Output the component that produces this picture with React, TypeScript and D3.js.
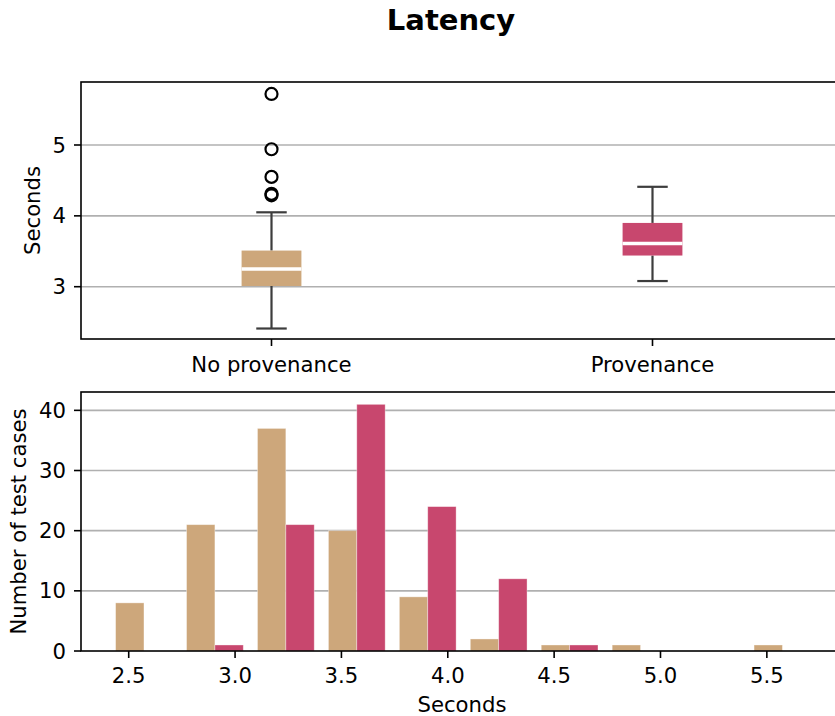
import React from "react";
import * as d3 from "d3";

// box plot values (seconds)
const groups = ["No provenance", "Provenance"];
const boxQ1 = [3.01, 3.44];
const boxMedian = [3.25, 3.61];
const boxQ3 = [3.51, 3.9];
const whiskerLow = [2.41, 3.08];
const whiskerHigh = [4.05, 4.41];
const outliers = [[5.72, 4.94, 4.55, 4.31, 4.29], []];
const colors = ["#CDA77B", "#C8476E"];

// histogram: 10 equal bins between min and max latency
const histMin = 2.405;
const histMax = 5.74;
const binCount = 10;
const noProvCounts = [8, 21, 37, 20, 9, 2, 1, 1, 0, 1];
const provCounts = [0, 1, 21, 41, 24, 12, 1, 0, 0, 0];

const topYTicks = [3, 4, 5];
const histYTicks = [0, 10, 20, 30, 40];
const histXTicks = [2.5, 3.0, 3.5, 4.0, 4.5, 5.0, 5.5];

const W = 835;
const H = 716;
const FONT = "DejaVu Sans, sans-serif";
const FS = 21.2;
const axisLeft = 81;
const axisRight = 843; // right spine falls outside the cropped figure
const top1 = { y0: 82, y1: 339 };
const top2 = { y0: 392, y1: 651 };

export default function App() {
  const xBox = d3.scaleLinear().domain([0.5, 2.5]).range([axisLeft, axisRight]);
  const yBox = d3.scaleLinear().domain([2.262, 5.889]).range([top1.y1, top1.y0]);

  const xHist = d3.scaleLinear().domain([2.2757, 5.858]).range([axisLeft, axisRight]);
  const yHist = d3.scaleLinear().domain([0, 43.05]).range([top2.y1, top2.y0]);

  const binW = (histMax - histMin) / binCount;
  const edges = d3.range(binCount).map((i) => histMin + i * binW);
  const series = [noProvCounts, provCounts];
  const barW = (binW * 0.8) / 2;

  const boxHalf = 0.0785;
  const capHalf = 0.04;
  const grid = "#b0b0b0";
  const spineW = 1.6;

  return (
    <svg
      width={W}
      height={H}
      style={{ position: "absolute", left: 0, top: 0, background: "#fff" }}
      fontFamily={FONT}
    >
      <text x={451} y={30} textAnchor="middle" fontSize={29} fontWeight="bold">
        Latency
      </text>

      {/* ---- box plot panel ---- */}
      {topYTicks.map((t) => (
        <g key={t}>
          <line x1={axisLeft} x2={axisRight} y1={yBox(t)} y2={yBox(t)} stroke={grid} strokeWidth={1.6} />
          <line x1={axisLeft - 7} x2={axisLeft} y1={yBox(t)} y2={yBox(t)} stroke="#000" strokeWidth={1.6} />
          <text x={axisLeft - 15} y={yBox(t) + 7.6} textAnchor="end" fontSize={FS}>
            {t}
          </text>
        </g>
      ))}
      {groups.map((g, i) => {
        const cx = xBox(i + 1);
        const bx0 = xBox(i + 1 - boxHalf);
        const bx1 = xBox(i + 1 + boxHalf);
        const cw0 = xBox(i + 1 - capHalf);
        const cw1 = xBox(i + 1 + capHalf);
        return (
          <g key={g}>
            <line x1={cx} x2={cx} y1={yBox(boxQ3[i])} y2={yBox(whiskerHigh[i])} stroke="#3d3d3d" strokeWidth={2.2} />
            <line x1={cx} x2={cx} y1={yBox(boxQ1[i])} y2={yBox(whiskerLow[i])} stroke="#3d3d3d" strokeWidth={2.2} />
            <line x1={cw0} x2={cw1} y1={yBox(whiskerHigh[i])} y2={yBox(whiskerHigh[i])} stroke="#3d3d3d" strokeWidth={2.2} />
            <line x1={cw0} x2={cw1} y1={yBox(whiskerLow[i])} y2={yBox(whiskerLow[i])} stroke="#3d3d3d" strokeWidth={2.2} />
            <rect
              x={bx0}
              y={yBox(boxQ3[i])}
              width={bx1 - bx0}
              height={yBox(boxQ1[i]) - yBox(boxQ3[i])}
              fill={colors[i]}
            />
            <line x1={bx0} x2={bx1} y1={yBox(boxMedian[i])} y2={yBox(boxMedian[i])} stroke="#fff" strokeWidth={3.5} />
            {outliers[i].map((o, k) => (
              <circle key={k} cx={cx} cy={yBox(o)} r={6} fill="none" stroke="#000" strokeWidth={2.2} />
            ))}
            <line x1={cx} x2={cx} y1={top1.y1} y2={top1.y1 + 7} stroke="#000" strokeWidth={1.6} />
            <text x={cx} y={372} textAnchor="middle" fontSize={FS}>
              {g}
            </text>
          </g>
        );
      })}
      <rect
        x={axisLeft}
        y={top1.y0}
        width={axisRight - axisLeft}
        height={top1.y1 - top1.y0}
        fill="none"
        stroke="#000"
        strokeWidth={spineW}
      />
      <text
        transform={`translate(40 ${(top1.y0 + top1.y1) / 2}) rotate(-90)`}
        textAnchor="middle"
        fontSize={FS}
      >
        Seconds
      </text>

      {/* ---- histogram panel ---- */}
      {histYTicks.map((t) => (
        <g key={t}>
          {t > 0 && (
            <line x1={axisLeft} x2={axisRight} y1={yHist(t)} y2={yHist(t)} stroke={grid} strokeWidth={1.6} />
          )}
          <line x1={axisLeft - 7} x2={axisLeft} y1={yHist(t)} y2={yHist(t)} stroke="#000" strokeWidth={1.6} />
          <text x={axisLeft - 15} y={yHist(t) + 7.6} textAnchor="end" fontSize={FS}>
            {t}
          </text>
        </g>
      ))}
      {series.map((counts, s) =>
        counts.map((c, i) => {
          if (!c) return null;
          const x0 = xHist(edges[i] + binW * 0.1 + s * barW);
          const x1 = xHist(edges[i] + binW * 0.1 + (s + 1) * barW);
          return (
            <rect
              key={`${s}-${i}`}
              x={x0}
              y={yHist(c)}
              width={x1 - x0}
              height={yHist(0) - yHist(c)}
              fill={colors[s]}
              stroke="#fff"
              strokeOpacity={0.45}
              strokeWidth={0.8}
            />
          );
        })
      )}
      {histXTicks.map((t) => (
        <g key={t}>
          <line x1={xHist(t)} x2={xHist(t)} y1={top2.y1} y2={top2.y1 + 7} stroke="#000" strokeWidth={1.6} />
          <text x={xHist(t)} y={683} textAnchor="middle" fontSize={FS}>
            {t.toFixed(1)}
          </text>
        </g>
      ))}
      <rect
        x={axisLeft}
        y={top2.y0}
        width={axisRight - axisLeft}
        height={top2.y1 - top2.y0}
        fill="none"
        stroke="#000"
        strokeWidth={spineW}
      />
      <text x={(axisLeft + axisRight) / 2} y={711.5} textAnchor="middle" fontSize={FS}>
        Seconds
      </text>
      <text
        transform={`translate(26 ${(top2.y0 + top2.y1) / 2}) rotate(-90)`}
        textAnchor="middle"
        fontSize={FS}
      >
        Number of test cases
      </text>
    </svg>
  );
}
